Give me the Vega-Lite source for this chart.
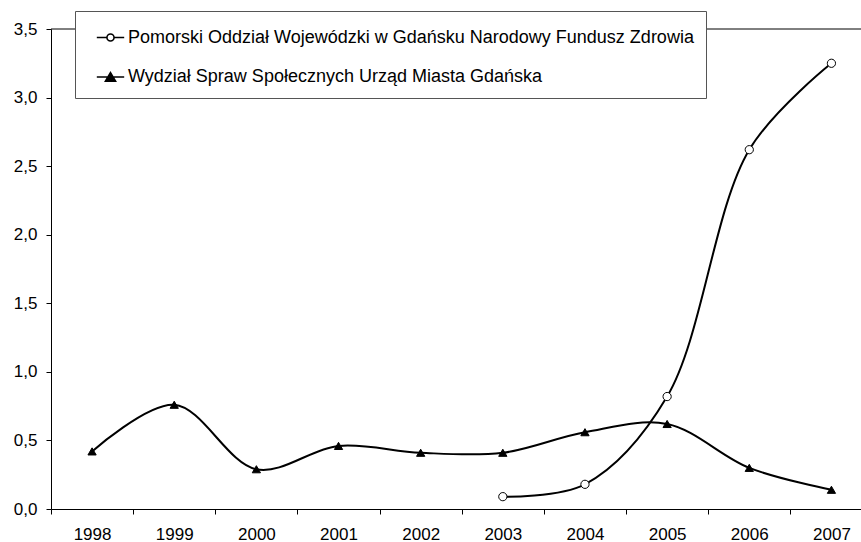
{
  "$schema": "https://vega.github.io/schema/vega-lite/v6.json",
  "width": 810,
  "height": 480,
  "autosize": {"type": "none"},
  "padding": {"left": 51, "top": 29, "right": 0, "bottom": 33},
  "background": "white",
  "config": {
    "view": {"stroke": null},
    "font": "Liberation Sans",
    "axis": {
      "labelFont": "Liberation Sans",
      "labelFontSize": 17,
      "labelColor": "black",
      "domainColor": "black",
      "tickColor": "black",
      "domainWidth": 1,
      "tickWidth": 1,
      "tickSize": 5,
      "grid": false,
      "title": null
    }
  },
  "data": {
    "values": [
      {"year": "1998", "series": "Wydział Spraw Społecznych Urząd Miasta Gdańska", "value": 0.42},
      {"year": "1999", "series": "Wydział Spraw Społecznych Urząd Miasta Gdańska", "value": 0.76},
      {"year": "2000", "series": "Wydział Spraw Społecznych Urząd Miasta Gdańska", "value": 0.29},
      {"year": "2001", "series": "Wydział Spraw Społecznych Urząd Miasta Gdańska", "value": 0.46},
      {"year": "2002", "series": "Wydział Spraw Społecznych Urząd Miasta Gdańska", "value": 0.41},
      {"year": "2003", "series": "Wydział Spraw Społecznych Urząd Miasta Gdańska", "value": 0.41},
      {"year": "2004", "series": "Wydział Spraw Społecznych Urząd Miasta Gdańska", "value": 0.56},
      {"year": "2005", "series": "Wydział Spraw Społecznych Urząd Miasta Gdańska", "value": 0.62},
      {"year": "2006", "series": "Wydział Spraw Społecznych Urząd Miasta Gdańska", "value": 0.30},
      {"year": "2007", "series": "Wydział Spraw Społecznych Urząd Miasta Gdańska", "value": 0.14},
      {"year": "2003", "series": "Pomorski Oddział Wojewódzki w Gdańsku Narodowy Fundusz Zdrowia", "value": 0.09},
      {"year": "2004", "series": "Pomorski Oddział Wojewódzki w Gdańsku Narodowy Fundusz Zdrowia", "value": 0.18},
      {"year": "2005", "series": "Pomorski Oddział Wojewódzki w Gdańsku Narodowy Fundusz Zdrowia", "value": 0.82},
      {"year": "2006", "series": "Pomorski Oddział Wojewódzki w Gdańsku Narodowy Fundusz Zdrowia", "value": 2.62},
      {"year": "2007", "series": "Pomorski Oddział Wojewódzki w Gdańsku Narodowy Fundusz Zdrowia", "value": 3.25}
    ]
  },
  "encoding": {
    "x": {
      "field": "year",
      "type": "ordinal",
      "bandPosition": 0.5,
      "scale": {"type": "band", "domain": ["1998","1999","2000","2001","2002","2003","2004","2005","2006","2007"], "range": [0, 821.5], "paddingInner": 0, "paddingOuter": 0},
      "axis": {"labelAngle": 0, "tickBand": "extent", "labelPadding": 12}
    },
    "y": {
      "field": "value",
      "type": "quantitative",
      "scale": {"domain": [0, 3.5], "nice": false},
      "axis": {
        "values": [0, 0.5, 1, 1.5, 2, 2.5, 3, 3.5],
        "labelExpr": "replace(format(datum.value, '.1f'), '.', ',')",
        "labelPadding": 9
      }
    }
  },
  "layer": [
    {
      "data": {"values": [{"top": 3.5}]},
      "mark": {"type": "rule", "color": "black", "strokeWidth": 1},
      "encoding": {"x": null, "y": {"field": "top", "type": "quantitative"}}
    },
    {
      "mark": {"type": "line", "interpolate": "catmull-rom", "color": "black", "strokeWidth": 2},
      "encoding": {"detail": {"field": "series"}}
    },
    {
      "mark": {"type": "point", "filled": true, "stroke": "black", "strokeWidth": 1, "opacity": 1},
      "encoding": {
        "size": {"value": 68},
        "shape": {
          "condition": {"test": "datum.series === 'Pomorski Oddział Wojewódzki w Gdańsku Narodowy Fundusz Zdrowia'", "value": "circle"},
          "value": "triangle-up"
        },
        "fill": {
          "condition": {"test": "datum.series === 'Pomorski Oddział Wojewódzki w Gdańsku Narodowy Fundusz Zdrowia'", "value": "white"},
          "value": "black"
        }
      }
    },
    {
      "transform": [{"filter": "datum.value < -100"}],
      "mark": {"type": "point", "filled": false, "strokeWidth": 1.5, "opacity": 1},
      "encoding": {
        "x": null,
        "y": null,
        "size": {"value": 750},
        "shape": {
          "field": "series",
          "scale": {"domain": ["Pomorski Oddział Wojewódzki w Gdańsku Narodowy Fundusz Zdrowia", "Wydział Spraw Społecznych Urząd Miasta Gdańska"], "range": ["M-1,0H-0.26M0.26,0H1M0.26,0A0.26,0.26 0 1,1 -0.26,0A0.26,0.26 0 1,1 0.26,0Z", "M-1,0H1M0,-0.32L0.37,0.3L-0.37,0.3Z"]},
          "legend": {
            "orient": "none",
            "legendX": 24,
            "legendY": -18,
            "title": null,
            "strokeColor": "#555555",
            "fillColor": "white",
            "padding": 12,
            "symbolOffset": 9,
            "symbolSize": 750,
            "symbolStrokeWidth": 1.6,
            "symbolOpacity": 1,
            "labelFont": "Liberation Sans",
            "labelFontSize": 18,
            "labelColor": "black",
            "labelOffset": 3,
            "labelLimit": 1000,
            "rowPadding": 15.5
          }
        },
        "stroke": {
          "field": "series",
          "scale": {"domain": ["Pomorski Oddział Wojewódzki w Gdańsku Narodowy Fundusz Zdrowia", "Wydział Spraw Społecznych Urząd Miasta Gdańska"], "range": ["black", "black"]}
        },
        "fill": {
          "field": "series",
          "scale": {"domain": ["Pomorski Oddział Wojewódzki w Gdańsku Narodowy Fundusz Zdrowia", "Wydział Spraw Społecznych Urząd Miasta Gdańska"], "range": ["white", "black"]}
        }
      }
    }
  ]
}
